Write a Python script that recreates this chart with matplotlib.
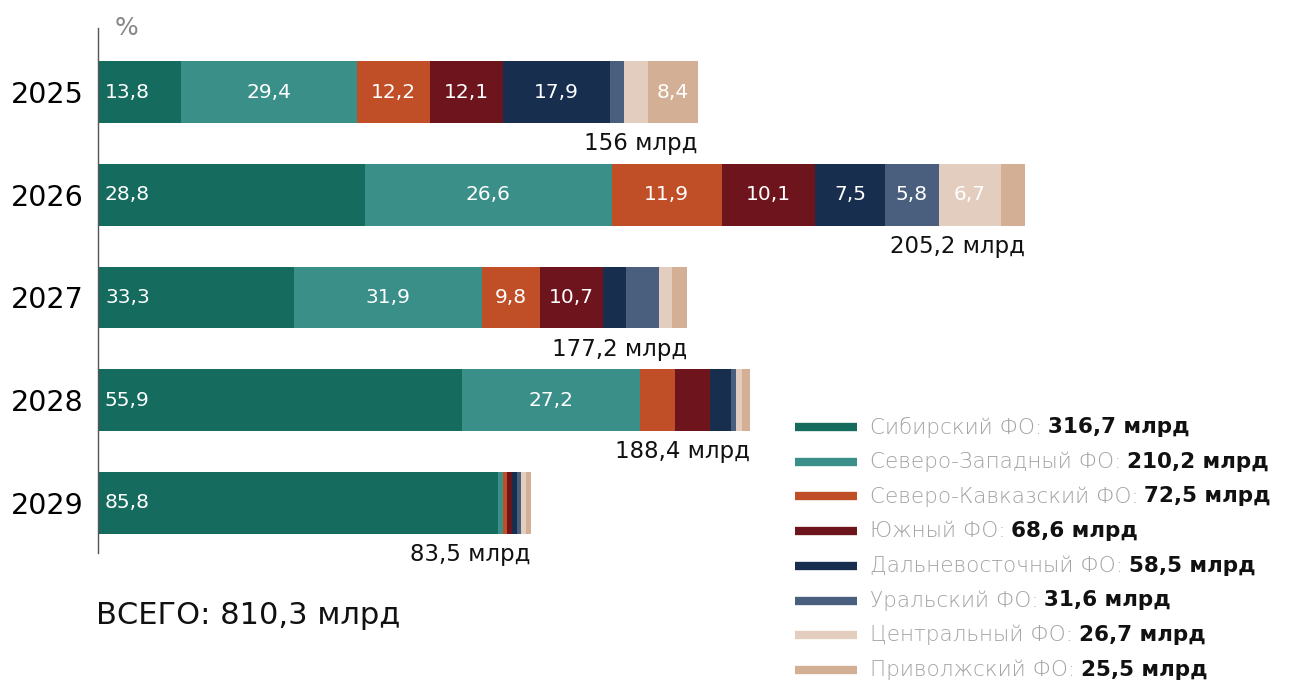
import matplotlib
matplotlib.use("Agg")
import matplotlib.pyplot as plt
from matplotlib.lines import Line2D
from matplotlib.text import Annotation

plt.rcParams['font.family'] = ['DejaVu Sans']

years = ['2025', '2026', '2027', '2028', '2029']
# длина полос (как на картинке, усл. ед.)
bar_len = [600, 927, 589, 652, 433]
totals = ['156 млрд', '205,2 млрд', '177,2 млрд', '188,4 млрд', '83,5 млрд']

regions = ['Сибирский ФО', 'Северо-Западный ФО', 'Северо-Кавказский ФО', 'Южный ФО',
           'Дальневосточный ФО', 'Уральский ФО', 'Центральный ФО', 'Приволжский ФО']
region_sums = ['316,7 млрд', '210,2 млрд', '72,5 млрд', '68,6 млрд',
               '58,5 млрд', '31,6 млрд', '26,7 млрд', '25,5 млрд']
colors = ['#146b5e', '#3b8f89', '#c04e26', '#6e141c', '#172e4f', '#4a5f7d', '#e3cdbf', '#d3b095']

# доли сегментов, %, по годам (строки = регионы)
shares = [
    [13.8, 28.8, 33.3, 55.9, 92.3],
    [29.4, 26.6, 31.9, 27.2, 1.2],
    [12.2, 11.9, 9.8, 5.4, 0.9],
    [12.1, 10.1, 10.7, 5.4, 1.2],
    [17.9, 7.5, 3.9, 3.2, 1.2],
    [2.2, 5.8, 5.6, 0.8, 0.9],
    [4.0, 6.7, 2.2, 0.8, 1.2],
    [8.4, 2.6, 2.6, 1.3, 1.2],
]
# подписи внутри сегментов ('' = без подписи)
seg_labels = [
    ['13,8', '28,8', '33,3', '55,9', '85,8'],
    ['29,4', '26,6', '31,9', '27,2', ''],
    ['12,2', '11,9', '9,8', '', ''],
    ['12,1', '10,1', '10,7', '', ''],
    ['17,9', '7,5', '', '', ''],
    ['', '5,8', '', '', ''],
    ['', '6,7', '', '', ''],
    ['8,4', '', '', '', ''],
]

W, H = 1299, 682
fig = plt.figure(figsize=(W / 100, H / 100), dpi=100)
ax = fig.add_axes([98 / W, 1 - 553 / H, 1 - 98 / W, (553 - 28) / H])
ax.set_xlim(0, 1201)
ax.set_ylim(4.487, -0.623)

ypos = list(range(len(years)))
left = [0.0] * len(years)
for r in range(len(regions)):
    widths = [shares[r][i] / 100 * bar_len[i] for i in range(len(years))]
    ax.barh(ypos, widths, left=left, height=0.6, color=colors[r], linewidth=0)
    for i in range(len(years)):
        lab = seg_labels[r][i]
        if lab:
            if r == 0:
                ax.text(left[i] + 7, ypos[i], lab, ha='left', va='center',
                        color='white', fontsize=14.5)
            else:
                ax.text(left[i] + widths[i] / 2, ypos[i], lab, ha='center', va='center',
                        color='white', fontsize=14.5)
    left = [left[i] + widths[i] for i in range(len(years))]

for i in range(len(years)):
    ax.text(bar_len[i], ypos[i] + 0.39, totals[i], ha='right', va='top',
            fontsize=16.5, color='#111111')

ax.set_yticks(ypos)
ax.set_yticklabels(years, fontsize=20.5)
ax.tick_params(axis='y', length=0, pad=10)
ax.set_xticks([])
for s in ['top', 'right', 'bottom']:
    ax.spines[s].set_visible(False)
ax.spines['left'].set_color('#555555')
ax.spines['left'].set_linewidth(1)

fig.text(115 / W, 1 - 28 / H, '%', fontsize=18, color='#888888', va='center', ha='left')
fig.text(96 / W, 1 - 616 / H, 'ВСЕГО: 810,3 млрд', fontsize=22, color='#111111',
         va='center', ha='left')

# легенда вручную
leg_y0, leg_dy = 427, 34.7
for r in range(len(regions)):
    y = 1 - (leg_y0 + r * leg_dy) / H
    fig.add_artist(Line2D([795 / W, 857 / W], [y, y], color=colors[r], linewidth=6,
                          transform=fig.transFigure, solid_capstyle='butt'))
    t = fig.text(870 / W, y, regions[r] + ':', fontsize=15.5, color='#a3a3a3',
                 fontweight='light', va='center', ha='left')
    fig.add_artist(Annotation(region_sums[r], xy=(1, 0.5), xycoords=t,
                              xytext=(4, 0), textcoords='offset points',
                              va='center', ha='left', fontsize=15.5,
                              color='#111111', fontweight='bold'))

fig.savefig('out.png', dpi=100)
